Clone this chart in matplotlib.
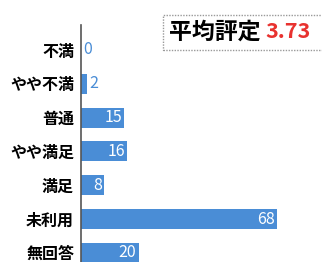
import matplotlib.pyplot as plt
from matplotlib.patches import Rectangle

plt.rcParams['font.family'] = ['Noto Sans CJK JP', 'DejaVu Sans']

categories = ["不満", "やや不満", "普通", "やや満足", "満足", "未利用", "無回答"]
counts = [0, 2, 15, 16, 8, 68, 20]
mean_rating = "3.73"

bar_color = "#4a8dd6"

fig = plt.figure(figsize=(3.22, 2.62), dpi=100)
# axis line at x=81px, top at y=25px, runs past the bottom edge
ax = fig.add_axes([81 / 322, 0.0, 229 / 322, 237 / 262])

y = list(range(len(categories)))
ax.barh(y, counts, height=0.59, color=bar_color)
ax.set_xlim(0, 229 / 2.88)
ax.set_ylim(212 / 33.8, -25 / 33.8)

ax.set_yticks(y)
ax.set_yticklabels(categories, fontsize=11.5, fontweight="bold")
ax.tick_params(axis="y", length=0, pad=5)
ax.set_xticks([])
for s in ["top", "right", "bottom"]:
    ax.spines[s].set_visible(False)
ax.spines["left"].set_color("#555555")
ax.spines["left"].set_linewidth(1.2)

for i, v in enumerate(counts):
    if v >= 5:
        ax.text(v - 0.8, i, str(v), ha="right", va="center", color="white",
                fontsize=11.5)
    else:
        ax.text(v + 0.9, i, str(v), ha="left", va="center", color=bar_color,
                fontsize=11.5)

# mean rating box
fig.patches.append(Rectangle((163 / 322, 1 - 50 / 262), 0.6, 35 / 262,
                             transform=fig.transFigure, fill=False,
                             edgecolor="#999999", linewidth=1, linestyle=(0, (1, 1))))
t1 = fig.text(169 / 322, 1 - 32 / 262, "平均評定", ha="left", va="center",
              fontsize=16.5, fontweight="bold", color="black")
fig.text(265 / 322, 1 - 32 / 262, mean_rating, ha="left", va="center",
         fontsize=15.5, fontweight="bold", color="#e8322f")

fig.savefig("out.png", dpi=100)
